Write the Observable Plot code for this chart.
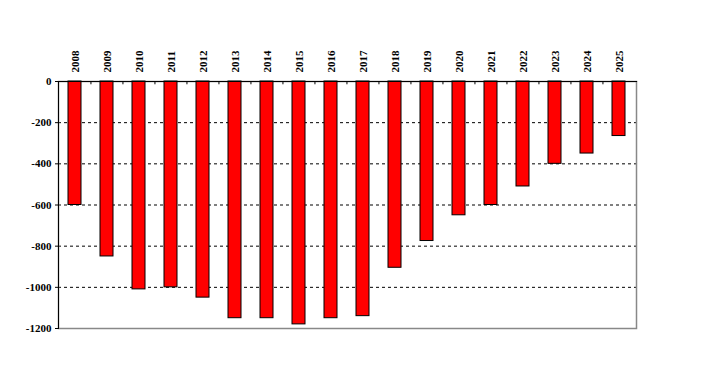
<!DOCTYPE html>
<html>
<head>
<meta charset="utf-8">
<script src="https://cdn.jsdelivr.net/npm/d3@7"></script>
<script src="https://cdn.jsdelivr.net/npm/@observablehq/plot@0.6"></script>
<style>
  html, body { margin: 0; padding: 0; background: #fff; }
  #chart svg { display: block; }
  #chart svg text { font-family: "Liberation Serif", "Times New Roman", serif; font-weight: bold; }
</style>
</head>
<body>
<div id="chart"></div>
<script>
const years = ["2008","2009","2010","2011","2012","2013","2014","2015","2016","2017","2018","2019","2020","2021","2022","2023","2024","2025"];
const values = [-600,-850,-1010,-1000,-1050,-1150,-1150,-1180,-1150,-1140,-905,-775,-650,-600,-510,-400,-350,-265];
const yTicks = [0,-200,-400,-600,-800,-1000,-1200];
const gridTicks = [-200,-400,-600,-800,-1000];

const data = years.map((y, i) => ({year: y, value: values[i]}));

const W = 703, H = 372;
const mL = 58, mR = 67, mT = 81, mB = 44;
const step = (W - mL - mR) / years.length;

const font = "Liberation Serif";

const chart = Plot.plot({
  width: W,
  height: H,
  marginLeft: mL,
  marginRight: mR,
  marginTop: mT,
  marginBottom: mB,
  style: {fontFamily: font, fontSize: "11px", fontWeight: "bold", color: "#000", background: "#fff"},
  x: {domain: years, paddingInner: 0.58, paddingOuter: 0.29, axis: null, label: null},
  y: {domain: [-1200, 0], axis: null, label: null},
  marks: [
    Plot.gridY(gridTicks, {stroke: "#000", strokeOpacity: 1, strokeDasharray: "3,3", strokeWidth: 1}),
    Plot.frame({stroke: "#888", strokeWidth: 1.5}),
    Plot.barY(data, {x: "year", y: "value", fill: "#ff0000", stroke: "#000", strokeWidth: 1}),
    Plot.ruleX(years.slice(1), {x: d => d, y1: 0, y2: -16, dx: -step / 2, stroke: "#000", strokeWidth: 1}),
    Plot.frame({anchor: "left", stroke: "#000", strokeWidth: 1}),
    Plot.frame({anchor: "top", stroke: "#000", strokeWidth: 1.2}),
    Plot.axisX({anchor: "top", label: null, tickRotate: -90, tickSize: 0, tickPadding: 9, fontFamily: font, fontWeight: "bold", fontSize: 11}),
    Plot.axisY(yTicks, {anchor: "left", label: null, tickSize: 3, tickPadding: 4, tickFormat: d => String(d), fontFamily: font, fontWeight: "bold", fontSize: 11})
  ]
});

document.getElementById("chart").appendChild(chart);
</script>
</body>
</html>
